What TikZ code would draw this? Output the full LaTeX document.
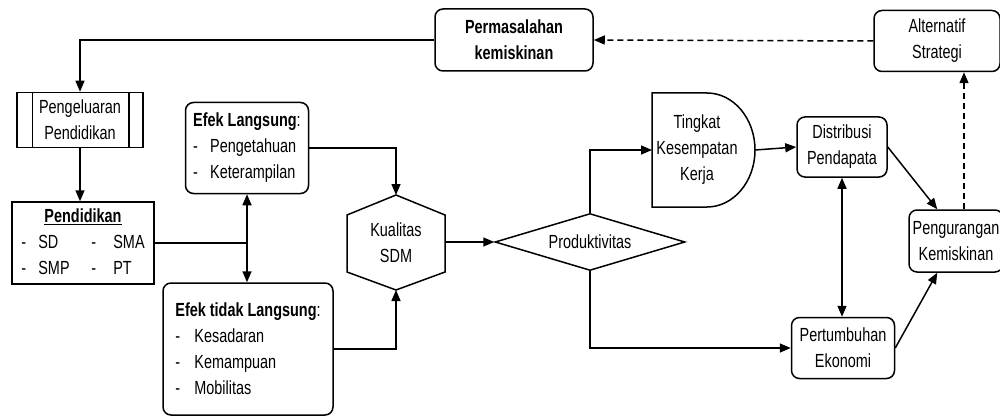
\documentclass[tikz,border=0pt]{standalone}
\usepackage{fontspec}
\setmainfont{Liberation Sans}[FakeStretch=0.76]
\usetikzlibrary{arrows.meta,shapes.geometric,calc}
\begin{document}
\begin{tikzpicture}[x=1pt,y=-1pt,
  every node/.style={font=\fontsize{19}{26}\selectfont},
  ln/.style={line width=1.5pt},
  arr/.style={ln,-{Triangle[length=11pt,width=9pt]}},
  darr/.style={ln,{Triangle[length=11pt,width=9pt]}-{Triangle[length=11pt,width=9pt]}},
  dasharr/.style={arr,dash pattern=on 6pt off 4pt},
  rbox/.style={draw,line width=1.5pt,rounded corners=8pt,align=center,inner sep=0pt},
  sbox/.style={draw,line width=1.5pt,align=center,inner sep=0pt},
  plain/.style={align=center,inner sep=0pt},
]
\useasboundingbox (0,0) rectangle (1000,417);

% nodes
\node[rbox,minimum width=158,minimum height=62] (perm) at (514,40) {\textbf{Permasalahan}\\\textbf{kemiskinan}};
\node[rbox,minimum width=126,minimum height=61] (alt) at (937,41) {Alternatif\\Strategi};
\node[sbox,minimum width=126,minimum height=55] (peng) at (80,120) {Pengeluaran\\Pendidikan};
\draw[ln] ([xshift=16pt]peng.north west) -- ([xshift=16pt]peng.south west);
\draw[ln] ([xshift=-15pt]peng.north east) -- ([xshift=-15pt]peng.south east);
\node[sbox,minimum width=142,minimum height=82] (pend) at (83,243)
  {\setlength{\tabcolsep}{0pt}\begin{tabular}{@{}p{17pt}p{53pt}p{22pt}l@{}}
   \multicolumn{4}{c}{\underline{\textbf{Pendidikan}}\hspace{10pt}}\\
   - & SD & - & SMA\\
   - & SMP & - & PT
   \end{tabular}};
\node[rbox,minimum width=123,minimum height=91,align=left] (efl) at (247,148)
  {\textbf{Efek Langsung}:\\\makebox[17pt][l]{-}Pengetahuan\\\makebox[17pt][l]{-}Keterampilan};
\node[rbox,minimum width=170,minimum height=132,align=left] (eftl) at (248,349)
  {\textbf{Efek tidak Langsung}:\\\makebox[19pt][l]{-}Kesadaran\\\makebox[19pt][l]{-}Kemampuan\\\makebox[19pt][l]{-}Mobilitas};

% hexagon Kualitas SDM
\coordinate (kualT) at (396,195);
\coordinate (kualB) at (396,290);
\coordinate (kualR) at (445,242);
\draw[ln] (kualT) -- (445,215) -- (445,272) -- (kualB) -- (347,272) -- (347,215) -- cycle;
\node[plain] (kual) at (396,243) {Kualitas\\SDM};

\node[draw,diamond,ln,inner sep=0pt,aspect=3.33,minimum width=190,minimum height=57] (prod) at (590,242) {Produktivitas};

% Tingkat shape
\coordinate (tingW) at (652,150);
\coordinate (tingE) at (755,150);
\draw[ln] (652,93) -- (707,93) .. controls (733.5,93) and (755,118.5) .. (tingE)
   .. controls (755,181.5) and (733.5,207) .. (707,207) -- (652,207) -- cycle;
\node[plain] (ting) at (697,150) {Tingkat\\Kesempatan\\Kerja};

\node[rbox,minimum width=90,minimum height=60] (dist) at (842,147) {Distribusi\\Pendapata};
\node[rbox,minimum width=103,minimum height=61] (pert) at (843,348) {Pertumbuhan\\Ekonomi};
\node[rbox,minimum width=94,minimum height=62] (red) at (956,241) {Pengurangan\\Kemiskinan};

% connectors
\coordinate (redT) at ($(red.north)+(8,0)$);
\coordinate (redNW) at ($(red.north west)+(29,0)$);
\coordinate (redSW) at ($(red.south west)+(29,0)$);
\draw[arr] (perm.west) -| (peng.north);
\draw[dasharr] (alt.west) -- (perm.east);
\draw[arr] (peng.south) -- (peng.south |- pend.north);
\draw[ln] (pend.east) -- (pend.east -| efl.south);
\draw[darr] (efl.south) -- (efl.south |- eftl.north);
\draw[arr] (efl.east) -| (kualT);
\draw[arr] (eftl.east) -| (kualB);
\draw[arr] (kualR) -- (prod.west);
\draw[arr] (prod.north) |- (tingW);
\draw[arr] (prod.south) |- (pert.west);
\draw[arr] (tingE) -- (dist.west);
\draw[darr] (dist.south) -- (dist.south |- pert.north);
\draw[arr] (dist.east) -- (redNW);
\draw[arr] (pert.east) -- (redSW);
\draw[dasharr] (redT) -- (redT |- alt.south);
\end{tikzpicture}
\end{document}
